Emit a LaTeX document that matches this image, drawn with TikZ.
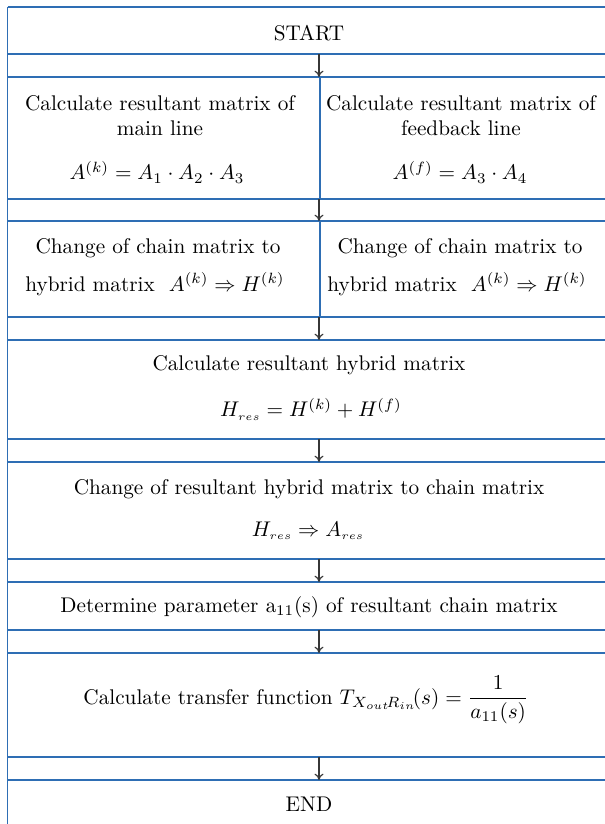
\documentclass[tikz,border=0pt]{standalone}
\usepackage{amsmath}
\usetikzlibrary{arrows.meta}
\definecolor{lineblue}{RGB}{46,110,180}
\definecolor{arrowgray}{RGB}{55,55,55}
\begin{document}
\begin{tikzpicture}[x=0.471pt,y=-0.471pt,
  frame/.style={draw=lineblue,line width=0.65pt},
  flowarrow/.style={draw=arrowgray,line width=0.55pt,-{To[length=3pt,width=4.2pt]}},
  txt/.style={inner sep=0pt,anchor=center,font=\normalsize}]
\useasboundingbox (0,0) rectangle (604,824);
% frame lines
\foreach \yy in {7,54,77,199,221,317,340,439,462,559,582,630,653,757,780}
  \draw[frame] (7.5,\yy) -- (612,\yy);
\draw[frame] (7.5,7) -- (7.5,826);
\draw[frame] (320,77) -- (320,199);
\draw[frame] (320,221) -- (320,317);
% arrow end points
\coordinate (a1s) at (319,54);  \coordinate (a1e) at (319,77);
\coordinate (a2s) at (319,199); \coordinate (a2e) at (319,221);
\coordinate (a3s) at (319,317); \coordinate (a3e) at (319,340);
\coordinate (a4s) at (319,439); \coordinate (a4e) at (319,462);
\coordinate (a5s) at (319,559); \coordinate (a5e) at (319,582);
\coordinate (a6s) at (319,630); \coordinate (a6e) at (319,653);
\coordinate (a7s) at (319,757); \coordinate (a7e) at (319,780);
\foreach \i in {1,...,7}
  \draw[flowarrow] (a\i s) -- (a\i e);
% texts
\node[txt] (start) at (309,33) {START};
\node[txt] (l1a) at (160,103) {Calculate resultant matrix of};
\node[txt] (l1b) at (160,128) {main line};
\node[txt] (l1c) at (157,172) {$A^{(k)} = A_{1}\cdot A_{2}\cdot A_{3}$};
\node[txt] (r1a) at (461,103) {Calculate resultant matrix of};
\node[txt] (r1b) at (461,128) {feedback line};
\node[txt] (r1c) at (460,172) {$A^{(f)} = A_{3}\cdot A_{4}$};
\node[txt] (l2a) at (158,248) {Change of chain matrix to};
\node[txt] (l2b) at (155,284) {hybrid matrix\ \ $A^{(k)} \Rightarrow H^{(k)}$};
\node[txt] (r2a) at (460,248) {Change of chain matrix to};
\node[txt] (r2b) at (457,284) {hybrid matrix\ \ $A^{(k)} \Rightarrow H^{(k)}$};
\node[txt] (c3a) at (309,365) {Calculate resultant hybrid matrix};
\node[txt] (c3b) at (311,409) {$H_{\scriptscriptstyle res} = H^{(k)} + H^{(f)}$};
\node[txt] (c4a) at (309,489) {Change of resultant hybrid matrix to chain matrix};
\node[txt] (c4b) at (308,531) {$H_{\scriptscriptstyle res} \Rightarrow A_{\scriptscriptstyle res}$};
\node[txt] (c5) at (309,607) {Determine parameter $\mathrm{a}_{11}(\mathrm{s})$ of resultant chain matrix};
\node[txt] (c6) at (306,700) {Calculate transfer function\ $T_{X_{\scriptscriptstyle out}\!R_{\scriptscriptstyle in}}\!(s) = \dfrac{1}{a_{11}(s)}$};
\node[txt] (endn) at (309,804) {END};
\end{tikzpicture}
\end{document}
